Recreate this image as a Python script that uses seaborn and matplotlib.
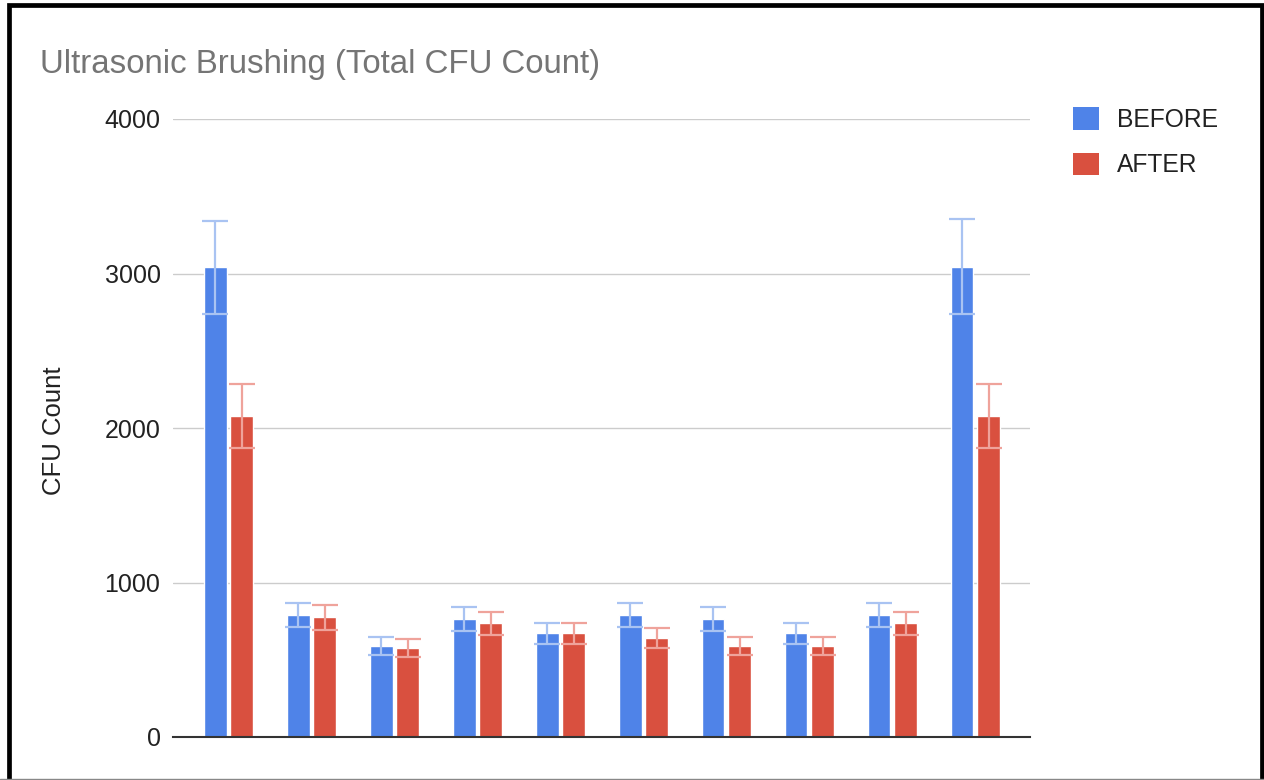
import matplotlib
matplotlib.use("Agg")
import matplotlib.pyplot as plt
import seaborn as sns
import pandas as pd
from matplotlib.patches import Rectangle, Patch
from matplotlib.lines import Line2D

# ---- data ----
groups = ["1", "2", "3", "4", "5", "6", "7", "8", "9", "10"]
series = ["BEFORE", "AFTER"]
before = [3040, 790, 590, 765, 670, 790, 765, 670, 790, 3045]
after = [2080, 775, 575, 735, 670, 643, 590, 590, 735, 2080]
before_err = [300, 78, 58, 76, 67, 78, 78, 67, 78, 305]
after_err = [208, 80, 58, 73, 67, 64, 58, 58, 73, 208]
yticks = [0, 1000, 2000, 3000, 4000]

title = "Ultrasonic Brushing (Total CFU Count)"
ylabel = "CFU Count"

colors = {"BEFORE": "#4f83e8", "AFTER": "#d9503f"}
err_colors = {"BEFORE": "#a9c3f2", "AFTER": "#efa39b"}

df = pd.DataFrame({
    "group": groups * 2,
    "series": ["BEFORE"] * len(groups) + ["AFTER"] * len(groups),
    "value": before + after,
})
errs = {"BEFORE": before_err, "AFTER": after_err}

sns.set_theme(style="white")
plt.rcParams["font.family"] = ["Liberation Sans", "DejaVu Sans"]

W, H = 1264, 780
fig = plt.figure(figsize=(W / 100, H / 100), dpi=100)
fig.patch.set_facecolor("white")
ax = fig.add_axes([173 / W, 1 - 737 / H, (1030 - 173) / W, (737 - 119) / H])

sns.barplot(data=df, x="group", y="value", hue="series", hue_order=series,
            order=groups, palette=colors, saturation=1, width=0.64, gap=0.14,
            errorbar=None, ax=ax, legend=False, zorder=3)

# error bars placed at the bar centres produced by seaborn
for cont, name in zip(ax.containers, series):
    xs = [p.get_x() + p.get_width() / 2 for p in cont.patches]
    ys = [p.get_height() for p in cont.patches]
    ax.errorbar(xs, ys, yerr=errs[name], fmt="none", ecolor=err_colors[name],
                elinewidth=1.6, capsize=9.5, capthick=1.6, zorder=4)

ax.set_ylim(0, 4000)
ax.set_xlim(-0.67, 9.66)
ax.set_yticks(yticks)
ax.set_yticklabels([str(t) for t in yticks])
ax.tick_params(axis="y", labelsize=18, pad=9, length=0, colors="#222222")
ax.tick_params(axis="x", length=0, labelbottom=False)
ax.set_xlabel("")
ax.set_ylabel("")
ax.yaxis.grid(True, color="#cccccc", linewidth=1.0, zorder=0)
ax.set_axisbelow(True)
for s in ["top", "right", "left"]:
    ax.spines[s].set_visible(False)
ax.spines["bottom"].set_color("#333333")
ax.spines["bottom"].set_linewidth(1.5)
ax.spines["bottom"].set_zorder(5)

fig.text(40 / W, 1 - 65 / H, title, fontsize=23.8, color="#757575",
         ha="left", va="center")
fig.text(54 / W, 1 - 431 / H, ylabel, fontsize=18.5, color="#222222",
         rotation=90, ha="center", va="center")

handles = [Patch(facecolor=colors[s], edgecolor="none") for s in series]
fig.legend(handles, series, loc="upper left",
           bbox_to_anchor=(1073 / W, 1 - 107 / H), frameon=False,
           fontsize=17.7, handlelength=1.05, handleheight=1.05,
           handletextpad=0.75, labelspacing=0.85, borderpad=0,
           borderaxespad=0, labelcolor="#222222")

# outer frame: black left/top/right, thin grey bottom
fig.patches.append(Rectangle((8.5 / W, -10 / H), (1261.5 - 8.5) / W, (775 + 10) / H,
                             transform=fig.transFigure, fill=False,
                             edgecolor="black", linewidth=3.4))
fig.lines.append(Line2D([0, 1], [0.6 / H, 0.6 / H], transform=fig.transFigure,
                        color="#888888", linewidth=1.0))

fig.savefig("out.png", dpi=100, facecolor="white")
